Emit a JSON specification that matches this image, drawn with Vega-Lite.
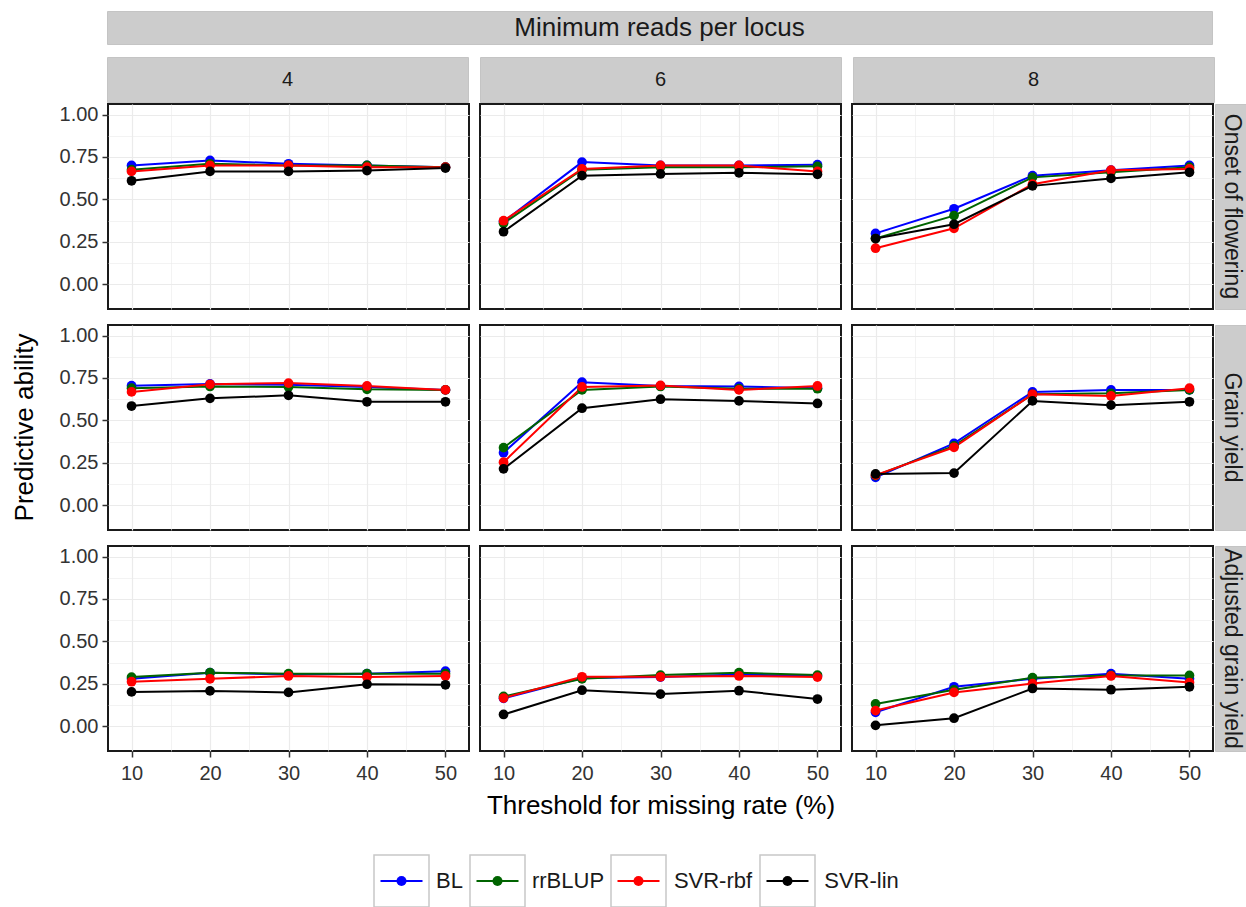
{
"$schema": "https://vega.github.io/schema/vega-lite/v6.json",
"padding": {"left": 12, "top": 10, "right": 0, "bottom": 0},
"datasets": {
"d": [
{"reads":4,"trait":"Onset of flowering","method":"BL","threshold":10,"ability":0.70},
{"reads":4,"trait":"Onset of flowering","method":"BL","threshold":20,"ability":0.73},
{"reads":4,"trait":"Onset of flowering","method":"BL","threshold":30,"ability":0.71},
{"reads":4,"trait":"Onset of flowering","method":"BL","threshold":40,"ability":0.70},
{"reads":4,"trait":"Onset of flowering","method":"BL","threshold":50,"ability":0.69},
{"reads":4,"trait":"Onset of flowering","method":"rrBLUP","threshold":10,"ability":0.675},
{"reads":4,"trait":"Onset of flowering","method":"rrBLUP","threshold":20,"ability":0.71},
{"reads":4,"trait":"Onset of flowering","method":"rrBLUP","threshold":30,"ability":0.70},
{"reads":4,"trait":"Onset of flowering","method":"rrBLUP","threshold":40,"ability":0.70},
{"reads":4,"trait":"Onset of flowering","method":"rrBLUP","threshold":50,"ability":0.69},
{"reads":4,"trait":"Onset of flowering","method":"SVR-rbf","threshold":10,"ability":0.665},
{"reads":4,"trait":"Onset of flowering","method":"SVR-rbf","threshold":20,"ability":0.70},
{"reads":4,"trait":"Onset of flowering","method":"SVR-rbf","threshold":30,"ability":0.70},
{"reads":4,"trait":"Onset of flowering","method":"SVR-rbf","threshold":40,"ability":0.69},
{"reads":4,"trait":"Onset of flowering","method":"SVR-rbf","threshold":50,"ability":0.69},
{"reads":4,"trait":"Onset of flowering","method":"SVR-lin","threshold":10,"ability":0.61},
{"reads":4,"trait":"Onset of flowering","method":"SVR-lin","threshold":20,"ability":0.665},
{"reads":4,"trait":"Onset of flowering","method":"SVR-lin","threshold":30,"ability":0.665},
{"reads":4,"trait":"Onset of flowering","method":"SVR-lin","threshold":40,"ability":0.67},
{"reads":4,"trait":"Onset of flowering","method":"SVR-lin","threshold":50,"ability":0.685},
{"reads":6,"trait":"Onset of flowering","method":"BL","threshold":10,"ability":0.37},
{"reads":6,"trait":"Onset of flowering","method":"BL","threshold":20,"ability":0.72},
{"reads":6,"trait":"Onset of flowering","method":"BL","threshold":30,"ability":0.70},
{"reads":6,"trait":"Onset of flowering","method":"BL","threshold":40,"ability":0.70},
{"reads":6,"trait":"Onset of flowering","method":"BL","threshold":50,"ability":0.705},
{"reads":6,"trait":"Onset of flowering","method":"rrBLUP","threshold":10,"ability":0.36},
{"reads":6,"trait":"Onset of flowering","method":"rrBLUP","threshold":20,"ability":0.675},
{"reads":6,"trait":"Onset of flowering","method":"rrBLUP","threshold":30,"ability":0.69},
{"reads":6,"trait":"Onset of flowering","method":"rrBLUP","threshold":40,"ability":0.69},
{"reads":6,"trait":"Onset of flowering","method":"rrBLUP","threshold":50,"ability":0.695},
{"reads":6,"trait":"Onset of flowering","method":"SVR-rbf","threshold":10,"ability":0.375},
{"reads":6,"trait":"Onset of flowering","method":"SVR-rbf","threshold":20,"ability":0.68},
{"reads":6,"trait":"Onset of flowering","method":"SVR-rbf","threshold":30,"ability":0.70},
{"reads":6,"trait":"Onset of flowering","method":"SVR-rbf","threshold":40,"ability":0.70},
{"reads":6,"trait":"Onset of flowering","method":"SVR-rbf","threshold":50,"ability":0.665},
{"reads":6,"trait":"Onset of flowering","method":"SVR-lin","threshold":10,"ability":0.31},
{"reads":6,"trait":"Onset of flowering","method":"SVR-lin","threshold":20,"ability":0.64},
{"reads":6,"trait":"Onset of flowering","method":"SVR-lin","threshold":30,"ability":0.65},
{"reads":6,"trait":"Onset of flowering","method":"SVR-lin","threshold":40,"ability":0.657},
{"reads":6,"trait":"Onset of flowering","method":"SVR-lin","threshold":50,"ability":0.648},
{"reads":8,"trait":"Onset of flowering","method":"BL","threshold":10,"ability":0.30},
{"reads":8,"trait":"Onset of flowering","method":"BL","threshold":20,"ability":0.445},
{"reads":8,"trait":"Onset of flowering","method":"BL","threshold":30,"ability":0.64},
{"reads":8,"trait":"Onset of flowering","method":"BL","threshold":40,"ability":0.672},
{"reads":8,"trait":"Onset of flowering","method":"BL","threshold":50,"ability":0.70},
{"reads":8,"trait":"Onset of flowering","method":"rrBLUP","threshold":10,"ability":0.27},
{"reads":8,"trait":"Onset of flowering","method":"rrBLUP","threshold":20,"ability":0.405},
{"reads":8,"trait":"Onset of flowering","method":"rrBLUP","threshold":30,"ability":0.63},
{"reads":8,"trait":"Onset of flowering","method":"rrBLUP","threshold":40,"ability":0.66},
{"reads":8,"trait":"Onset of flowering","method":"rrBLUP","threshold":50,"ability":0.69},
{"reads":8,"trait":"Onset of flowering","method":"SVR-rbf","threshold":10,"ability":0.213},
{"reads":8,"trait":"Onset of flowering","method":"SVR-rbf","threshold":20,"ability":0.33},
{"reads":8,"trait":"Onset of flowering","method":"SVR-rbf","threshold":30,"ability":0.59},
{"reads":8,"trait":"Onset of flowering","method":"SVR-rbf","threshold":40,"ability":0.672},
{"reads":8,"trait":"Onset of flowering","method":"SVR-rbf","threshold":50,"ability":0.68},
{"reads":8,"trait":"Onset of flowering","method":"SVR-lin","threshold":10,"ability":0.27},
{"reads":8,"trait":"Onset of flowering","method":"SVR-lin","threshold":20,"ability":0.354},
{"reads":8,"trait":"Onset of flowering","method":"SVR-lin","threshold":30,"ability":0.58},
{"reads":8,"trait":"Onset of flowering","method":"SVR-lin","threshold":40,"ability":0.624},
{"reads":8,"trait":"Onset of flowering","method":"SVR-lin","threshold":50,"ability":0.66},
{"reads":4,"trait":"Grain yield","method":"BL","threshold":10,"ability":0.705},
{"reads":4,"trait":"Grain yield","method":"BL","threshold":20,"ability":0.715},
{"reads":4,"trait":"Grain yield","method":"BL","threshold":30,"ability":0.71},
{"reads":4,"trait":"Grain yield","method":"BL","threshold":40,"ability":0.697},
{"reads":4,"trait":"Grain yield","method":"BL","threshold":50,"ability":0.68},
{"reads":4,"trait":"Grain yield","method":"rrBLUP","threshold":10,"ability":0.69},
{"reads":4,"trait":"Grain yield","method":"rrBLUP","threshold":20,"ability":0.70},
{"reads":4,"trait":"Grain yield","method":"rrBLUP","threshold":30,"ability":0.697},
{"reads":4,"trait":"Grain yield","method":"rrBLUP","threshold":40,"ability":0.683},
{"reads":4,"trait":"Grain yield","method":"rrBLUP","threshold":50,"ability":0.68},
{"reads":4,"trait":"Grain yield","method":"SVR-rbf","threshold":10,"ability":0.668},
{"reads":4,"trait":"Grain yield","method":"SVR-rbf","threshold":20,"ability":0.713},
{"reads":4,"trait":"Grain yield","method":"SVR-rbf","threshold":30,"ability":0.72},
{"reads":4,"trait":"Grain yield","method":"SVR-rbf","threshold":40,"ability":0.703},
{"reads":4,"trait":"Grain yield","method":"SVR-rbf","threshold":50,"ability":0.68},
{"reads":4,"trait":"Grain yield","method":"SVR-lin","threshold":10,"ability":0.585},
{"reads":4,"trait":"Grain yield","method":"SVR-lin","threshold":20,"ability":0.63},
{"reads":4,"trait":"Grain yield","method":"SVR-lin","threshold":30,"ability":0.648},
{"reads":4,"trait":"Grain yield","method":"SVR-lin","threshold":40,"ability":0.61},
{"reads":4,"trait":"Grain yield","method":"SVR-lin","threshold":50,"ability":0.61},
{"reads":6,"trait":"Grain yield","method":"BL","threshold":10,"ability":0.31},
{"reads":6,"trait":"Grain yield","method":"BL","threshold":20,"ability":0.725},
{"reads":6,"trait":"Grain yield","method":"BL","threshold":30,"ability":0.703},
{"reads":6,"trait":"Grain yield","method":"BL","threshold":40,"ability":0.70},
{"reads":6,"trait":"Grain yield","method":"BL","threshold":50,"ability":0.69},
{"reads":6,"trait":"Grain yield","method":"rrBLUP","threshold":10,"ability":0.34},
{"reads":6,"trait":"Grain yield","method":"rrBLUP","threshold":20,"ability":0.68},
{"reads":6,"trait":"Grain yield","method":"rrBLUP","threshold":30,"ability":0.70},
{"reads":6,"trait":"Grain yield","method":"rrBLUP","threshold":40,"ability":0.687},
{"reads":6,"trait":"Grain yield","method":"rrBLUP","threshold":50,"ability":0.687},
{"reads":6,"trait":"Grain yield","method":"SVR-rbf","threshold":10,"ability":0.254},
{"reads":6,"trait":"Grain yield","method":"SVR-rbf","threshold":20,"ability":0.697},
{"reads":6,"trait":"Grain yield","method":"SVR-rbf","threshold":30,"ability":0.706},
{"reads":6,"trait":"Grain yield","method":"SVR-rbf","threshold":40,"ability":0.68},
{"reads":6,"trait":"Grain yield","method":"SVR-rbf","threshold":50,"ability":0.703},
{"reads":6,"trait":"Grain yield","method":"SVR-lin","threshold":10,"ability":0.215},
{"reads":6,"trait":"Grain yield","method":"SVR-lin","threshold":20,"ability":0.572},
{"reads":6,"trait":"Grain yield","method":"SVR-lin","threshold":30,"ability":0.625},
{"reads":6,"trait":"Grain yield","method":"SVR-lin","threshold":40,"ability":0.615},
{"reads":6,"trait":"Grain yield","method":"SVR-lin","threshold":50,"ability":0.60},
{"reads":8,"trait":"Grain yield","method":"BL","threshold":10,"ability":0.165},
{"reads":8,"trait":"Grain yield","method":"BL","threshold":20,"ability":0.365},
{"reads":8,"trait":"Grain yield","method":"BL","threshold":30,"ability":0.668},
{"reads":8,"trait":"Grain yield","method":"BL","threshold":40,"ability":0.68},
{"reads":8,"trait":"Grain yield","method":"BL","threshold":50,"ability":0.68},
{"reads":8,"trait":"Grain yield","method":"rrBLUP","threshold":10,"ability":0.175},
{"reads":8,"trait":"Grain yield","method":"rrBLUP","threshold":20,"ability":0.35},
{"reads":8,"trait":"Grain yield","method":"rrBLUP","threshold":30,"ability":0.654},
{"reads":8,"trait":"Grain yield","method":"rrBLUP","threshold":40,"ability":0.66},
{"reads":8,"trait":"Grain yield","method":"rrBLUP","threshold":50,"ability":0.68},
{"reads":8,"trait":"Grain yield","method":"SVR-rbf","threshold":10,"ability":0.178},
{"reads":8,"trait":"Grain yield","method":"SVR-rbf","threshold":20,"ability":0.342},
{"reads":8,"trait":"Grain yield","method":"SVR-rbf","threshold":30,"ability":0.654},
{"reads":8,"trait":"Grain yield","method":"SVR-rbf","threshold":40,"ability":0.644},
{"reads":8,"trait":"Grain yield","method":"SVR-rbf","threshold":50,"ability":0.69},
{"reads":8,"trait":"Grain yield","method":"SVR-lin","threshold":10,"ability":0.185},
{"reads":8,"trait":"Grain yield","method":"SVR-lin","threshold":20,"ability":0.19},
{"reads":8,"trait":"Grain yield","method":"SVR-lin","threshold":30,"ability":0.615},
{"reads":8,"trait":"Grain yield","method":"SVR-lin","threshold":40,"ability":0.59},
{"reads":8,"trait":"Grain yield","method":"SVR-lin","threshold":50,"ability":0.61},
{"reads":4,"trait":"Adjusted grain yield","method":"BL","threshold":10,"ability":0.28},
{"reads":4,"trait":"Adjusted grain yield","method":"BL","threshold":20,"ability":0.316},
{"reads":4,"trait":"Adjusted grain yield","method":"BL","threshold":30,"ability":0.305},
{"reads":4,"trait":"Adjusted grain yield","method":"BL","threshold":40,"ability":0.31},
{"reads":4,"trait":"Adjusted grain yield","method":"BL","threshold":50,"ability":0.325},
{"reads":4,"trait":"Adjusted grain yield","method":"rrBLUP","threshold":10,"ability":0.29},
{"reads":4,"trait":"Adjusted grain yield","method":"rrBLUP","threshold":20,"ability":0.316},
{"reads":4,"trait":"Adjusted grain yield","method":"rrBLUP","threshold":30,"ability":0.31},
{"reads":4,"trait":"Adjusted grain yield","method":"rrBLUP","threshold":40,"ability":0.31},
{"reads":4,"trait":"Adjusted grain yield","method":"rrBLUP","threshold":50,"ability":0.31},
{"reads":4,"trait":"Adjusted grain yield","method":"SVR-rbf","threshold":10,"ability":0.263},
{"reads":4,"trait":"Adjusted grain yield","method":"SVR-rbf","threshold":20,"ability":0.28},
{"reads":4,"trait":"Adjusted grain yield","method":"SVR-rbf","threshold":30,"ability":0.297},
{"reads":4,"trait":"Adjusted grain yield","method":"SVR-rbf","threshold":40,"ability":0.29},
{"reads":4,"trait":"Adjusted grain yield","method":"SVR-rbf","threshold":50,"ability":0.297},
{"reads":4,"trait":"Adjusted grain yield","method":"SVR-lin","threshold":10,"ability":0.203},
{"reads":4,"trait":"Adjusted grain yield","method":"SVR-lin","threshold":20,"ability":0.209},
{"reads":4,"trait":"Adjusted grain yield","method":"SVR-lin","threshold":30,"ability":0.20},
{"reads":4,"trait":"Adjusted grain yield","method":"SVR-lin","threshold":40,"ability":0.248},
{"reads":4,"trait":"Adjusted grain yield","method":"SVR-lin","threshold":50,"ability":0.245},
{"reads":6,"trait":"Adjusted grain yield","method":"BL","threshold":10,"ability":0.165},
{"reads":6,"trait":"Adjusted grain yield","method":"BL","threshold":20,"ability":0.285},
{"reads":6,"trait":"Adjusted grain yield","method":"BL","threshold":30,"ability":0.29},
{"reads":6,"trait":"Adjusted grain yield","method":"BL","threshold":40,"ability":0.305},
{"reads":6,"trait":"Adjusted grain yield","method":"BL","threshold":50,"ability":0.297},
{"reads":6,"trait":"Adjusted grain yield","method":"rrBLUP","threshold":10,"ability":0.176},
{"reads":6,"trait":"Adjusted grain yield","method":"rrBLUP","threshold":20,"ability":0.28},
{"reads":6,"trait":"Adjusted grain yield","method":"rrBLUP","threshold":30,"ability":0.302},
{"reads":6,"trait":"Adjusted grain yield","method":"rrBLUP","threshold":40,"ability":0.316},
{"reads":6,"trait":"Adjusted grain yield","method":"rrBLUP","threshold":50,"ability":0.302},
{"reads":6,"trait":"Adjusted grain yield","method":"SVR-rbf","threshold":10,"ability":0.167},
{"reads":6,"trait":"Adjusted grain yield","method":"SVR-rbf","threshold":20,"ability":0.292},
{"reads":6,"trait":"Adjusted grain yield","method":"SVR-rbf","threshold":30,"ability":0.292},
{"reads":6,"trait":"Adjusted grain yield","method":"SVR-rbf","threshold":40,"ability":0.297},
{"reads":6,"trait":"Adjusted grain yield","method":"SVR-rbf","threshold":50,"ability":0.29},
{"reads":6,"trait":"Adjusted grain yield","method":"SVR-lin","threshold":10,"ability":0.07},
{"reads":6,"trait":"Adjusted grain yield","method":"SVR-lin","threshold":20,"ability":0.213},
{"reads":6,"trait":"Adjusted grain yield","method":"SVR-lin","threshold":30,"ability":0.19},
{"reads":6,"trait":"Adjusted grain yield","method":"SVR-lin","threshold":40,"ability":0.21},
{"reads":6,"trait":"Adjusted grain yield","method":"SVR-lin","threshold":50,"ability":0.161},
{"reads":8,"trait":"Adjusted grain yield","method":"BL","threshold":10,"ability":0.083},
{"reads":8,"trait":"Adjusted grain yield","method":"BL","threshold":20,"ability":0.233},
{"reads":8,"trait":"Adjusted grain yield","method":"BL","threshold":30,"ability":0.28},
{"reads":8,"trait":"Adjusted grain yield","method":"BL","threshold":40,"ability":0.31},
{"reads":8,"trait":"Adjusted grain yield","method":"BL","threshold":50,"ability":0.28},
{"reads":8,"trait":"Adjusted grain yield","method":"rrBLUP","threshold":10,"ability":0.132},
{"reads":8,"trait":"Adjusted grain yield","method":"rrBLUP","threshold":20,"ability":0.215},
{"reads":8,"trait":"Adjusted grain yield","method":"rrBLUP","threshold":30,"ability":0.287},
{"reads":8,"trait":"Adjusted grain yield","method":"rrBLUP","threshold":40,"ability":0.30},
{"reads":8,"trait":"Adjusted grain yield","method":"rrBLUP","threshold":50,"ability":0.30},
{"reads":8,"trait":"Adjusted grain yield","method":"SVR-rbf","threshold":10,"ability":0.093},
{"reads":8,"trait":"Adjusted grain yield","method":"SVR-rbf","threshold":20,"ability":0.20},
{"reads":8,"trait":"Adjusted grain yield","method":"SVR-rbf","threshold":30,"ability":0.252},
{"reads":8,"trait":"Adjusted grain yield","method":"SVR-rbf","threshold":40,"ability":0.297},
{"reads":8,"trait":"Adjusted grain yield","method":"SVR-rbf","threshold":50,"ability":0.258},
{"reads":8,"trait":"Adjusted grain yield","method":"SVR-lin","threshold":10,"ability":0.006},
{"reads":8,"trait":"Adjusted grain yield","method":"SVR-lin","threshold":20,"ability":0.048},
{"reads":8,"trait":"Adjusted grain yield","method":"SVR-lin","threshold":30,"ability":0.223},
{"reads":8,"trait":"Adjusted grain yield","method":"SVR-lin","threshold":40,"ability":0.216},
{"reads":8,"trait":"Adjusted grain yield","method":"SVR-lin","threshold":50,"ability":0.233}
],
"methods": [{"method":"BL"},{"method":"rrBLUP"},{"method":"SVR-rbf"},{"method":"SVR-lin"}]
},
"spacing": 0,
"vconcat": [
 {"spacing": 0, "hconcat": [
  {"width": 94, "height": 10, "view": {"stroke": null}, "data": {"values": []}, "mark": "point", "encoding": {}},
  {"spacing": 11, "vconcat": [
   {"width": 1105, "height": 33, "view": {"fill": "#CCCCCC", "stroke": "#C4C4C4", "strokeWidth": 1}, "data": {"values": [{"label": "Minimum reads per locus"}]}, "mark": {"type": "text", "fontSize": 26, "color": "#1A1A1A", "align": "center", "baseline": "middle"}, "encoding": {"text": {"field": "label", "type": "nominal"}}},
   {"spacing": 10, "hconcat": [
    {"width": 361, "height": 45, "view": {"fill": "#CCCCCC", "stroke": "#C4C4C4", "strokeWidth": 1}, "data": {"values": [{"label": "4"}]}, "mark": {"type": "text", "fontSize": 20, "color": "#1A1A1A", "align": "center", "baseline": "middle"}, "encoding": {"text": {"field": "label", "type": "nominal"}}},
    {"width": 361, "height": 45, "view": {"fill": "#CCCCCC", "stroke": "#C4C4C4", "strokeWidth": 1}, "data": {"values": [{"label": "6"}]}, "mark": {"type": "text", "fontSize": 20, "color": "#1A1A1A", "align": "center", "baseline": "middle"}, "encoding": {"text": {"field": "label", "type": "nominal"}}},
    {"width": 361, "height": 45, "view": {"fill": "#CCCCCC", "stroke": "#C4C4C4", "strokeWidth": 1}, "data": {"values": [{"label": "8"}]}, "mark": {"type": "text", "fontSize": 20, "color": "#1A1A1A", "align": "center", "baseline": "middle"}, "encoding": {"text": {"field": "label", "type": "nominal"}}}
   ]}
  ]}
 ]},
 {"spacing": 35, "vconcat": [
  {"spacing": 20, "hconcat": [
   {"width": 26, "height": 647, "view": {"stroke": null}, "data": {"values": [{"label": "Predictive ability"}]}, "mark": {"type": "text", "angle": 270, "fontSize": 26, "color": "#000000", "align": "center", "baseline": "middle"}, "encoding": {"text": {"field": "label", "type": "nominal"}}},
   {"spacing": 14, "vconcat": [
    {"spacing": 0, "hconcat": [
     {"spacing": 9, "hconcat": [
      {"width": 361, "height": 205, "data": {"name": "d"}, "transform": [{"filter": "datum.reads == 4 && datum.trait == 'Onset of flowering'"}],
       "mark": {"type": "line", "strokeWidth": 2, "point": {"filled": true, "size": 95, "opacity": 1}},
       "encoding": {
        "x": {"field": "threshold", "type": "quantitative", "scale": {"domain": [7, 53], "nice": false, "zero": false}, "axis": {"values": [10,15,20,25,30,35,40,45,50], "labels": false, "ticks": false, "title": null, "gridWidth": {"condition": {"test": "datum.value % 10 == 0", "value": 1.2}, "value": 0.6}}},
        "y": {"field": "ability", "type": "quantitative", "scale": {"domain": [-0.145, 1.062], "nice": false, "zero": false}, "axis": {"values": [0,0.125,0.25,0.375,0.5,0.625,0.75,0.875,1], "labelExpr": "abs(datum.value*4 - round(datum.value*4)) < 0.001 ? format(datum.value, '.2f') : ''", "tickOpacity": {"condition": {"test": "abs(datum.value*4 - round(datum.value*4)) < 0.001", "value": 1}, "value": 0}, "title": null, "gridWidth": {"condition": {"test": "abs(datum.value*4 - round(datum.value*4)) < 0.001", "value": 1.2}, "value": 0.6}}},
        "color": {"field": "method", "type": "nominal", "scale": {"domain": ["BL","rrBLUP","SVR-rbf","SVR-lin"], "range": ["#0000FF","#006400","#FF0000","#000000"]}, "legend": null}
       }},
      {"width": 361, "height": 205, "data": {"name": "d"}, "transform": [{"filter": "datum.reads == 6 && datum.trait == 'Onset of flowering'"}],
       "mark": {"type": "line", "strokeWidth": 2, "point": {"filled": true, "size": 95, "opacity": 1}},
       "encoding": {
        "x": {"field": "threshold", "type": "quantitative", "scale": {"domain": [7, 53], "nice": false, "zero": false}, "axis": {"values": [10,15,20,25,30,35,40,45,50], "labels": false, "ticks": false, "title": null, "gridWidth": {"condition": {"test": "datum.value % 10 == 0", "value": 1.2}, "value": 0.6}}},
        "y": {"field": "ability", "type": "quantitative", "scale": {"domain": [-0.145, 1.062], "nice": false, "zero": false}, "axis": {"values": [0,0.125,0.25,0.375,0.5,0.625,0.75,0.875,1], "labels": false, "ticks": false, "title": null, "gridWidth": {"condition": {"test": "abs(datum.value*4 - round(datum.value*4)) < 0.001", "value": 1.2}, "value": 0.6}}},
        "color": {"field": "method", "type": "nominal", "scale": {"domain": ["BL","rrBLUP","SVR-rbf","SVR-lin"], "range": ["#0000FF","#006400","#FF0000","#000000"]}, "legend": null}
       }},
      {"width": 361, "height": 205, "data": {"name": "d"}, "transform": [{"filter": "datum.reads == 8 && datum.trait == 'Onset of flowering'"}],
       "mark": {"type": "line", "strokeWidth": 2, "point": {"filled": true, "size": 95, "opacity": 1}},
       "encoding": {
        "x": {"field": "threshold", "type": "quantitative", "scale": {"domain": [7, 53], "nice": false, "zero": false}, "axis": {"values": [10,15,20,25,30,35,40,45,50], "labels": false, "ticks": false, "title": null, "gridWidth": {"condition": {"test": "datum.value % 10 == 0", "value": 1.2}, "value": 0.6}}},
        "y": {"field": "ability", "type": "quantitative", "scale": {"domain": [-0.145, 1.062], "nice": false, "zero": false}, "axis": {"values": [0,0.125,0.25,0.375,0.5,0.625,0.75,0.875,1], "labels": false, "ticks": false, "title": null, "gridWidth": {"condition": {"test": "abs(datum.value*4 - round(datum.value*4)) < 0.001", "value": 1.2}, "value": 0.6}}},
        "color": {"field": "method", "type": "nominal", "scale": {"domain": ["BL","rrBLUP","SVR-rbf","SVR-lin"], "range": ["#0000FF","#006400","#FF0000","#000000"]}, "legend": null}
       }}
     ]},
     {"width": 33, "height": 205, "view": {"fill": "#CCCCCC", "stroke": "#C4C4C4", "strokeWidth": 1}, "data": {"values": [{"label": "Onset of flowering"}]}, "mark": {"type": "text", "angle": 90, "fontSize": 23, "color": "#1A1A1A", "align": "center", "baseline": "middle"}, "encoding": {"text": {"field": "label", "type": "nominal"}}}
    ]},
    {"spacing": 0, "hconcat": [
     {"spacing": 9, "hconcat": [
      {"width": 361, "height": 205, "data": {"name": "d"}, "transform": [{"filter": "datum.reads == 4 && datum.trait == 'Grain yield'"}],
       "mark": {"type": "line", "strokeWidth": 2, "point": {"filled": true, "size": 95, "opacity": 1}},
       "encoding": {
        "x": {"field": "threshold", "type": "quantitative", "scale": {"domain": [7, 53], "nice": false, "zero": false}, "axis": {"values": [10,15,20,25,30,35,40,45,50], "labels": false, "ticks": false, "title": null, "gridWidth": {"condition": {"test": "datum.value % 10 == 0", "value": 1.2}, "value": 0.6}}},
        "y": {"field": "ability", "type": "quantitative", "scale": {"domain": [-0.145, 1.062], "nice": false, "zero": false}, "axis": {"values": [0,0.125,0.25,0.375,0.5,0.625,0.75,0.875,1], "labelExpr": "abs(datum.value*4 - round(datum.value*4)) < 0.001 ? format(datum.value, '.2f') : ''", "tickOpacity": {"condition": {"test": "abs(datum.value*4 - round(datum.value*4)) < 0.001", "value": 1}, "value": 0}, "title": null, "gridWidth": {"condition": {"test": "abs(datum.value*4 - round(datum.value*4)) < 0.001", "value": 1.2}, "value": 0.6}}},
        "color": {"field": "method", "type": "nominal", "scale": {"domain": ["BL","rrBLUP","SVR-rbf","SVR-lin"], "range": ["#0000FF","#006400","#FF0000","#000000"]}, "legend": null}
       }},
      {"width": 361, "height": 205, "data": {"name": "d"}, "transform": [{"filter": "datum.reads == 6 && datum.trait == 'Grain yield'"}],
       "mark": {"type": "line", "strokeWidth": 2, "point": {"filled": true, "size": 95, "opacity": 1}},
       "encoding": {
        "x": {"field": "threshold", "type": "quantitative", "scale": {"domain": [7, 53], "nice": false, "zero": false}, "axis": {"values": [10,15,20,25,30,35,40,45,50], "labels": false, "ticks": false, "title": null, "gridWidth": {"condition": {"test": "datum.value % 10 == 0", "value": 1.2}, "value": 0.6}}},
        "y": {"field": "ability", "type": "quantitative", "scale": {"domain": [-0.145, 1.062], "nice": false, "zero": false}, "axis": {"values": [0,0.125,0.25,0.375,0.5,0.625,0.75,0.875,1], "labels": false, "ticks": false, "title": null, "gridWidth": {"condition": {"test": "abs(datum.value*4 - round(datum.value*4)) < 0.001", "value": 1.2}, "value": 0.6}}},
        "color": {"field": "method", "type": "nominal", "scale": {"domain": ["BL","rrBLUP","SVR-rbf","SVR-lin"], "range": ["#0000FF","#006400","#FF0000","#000000"]}, "legend": null}
       }},
      {"width": 361, "height": 205, "data": {"name": "d"}, "transform": [{"filter": "datum.reads == 8 && datum.trait == 'Grain yield'"}],
       "mark": {"type": "line", "strokeWidth": 2, "point": {"filled": true, "size": 95, "opacity": 1}},
       "encoding": {
        "x": {"field": "threshold", "type": "quantitative", "scale": {"domain": [7, 53], "nice": false, "zero": false}, "axis": {"values": [10,15,20,25,30,35,40,45,50], "labels": false, "ticks": false, "title": null, "gridWidth": {"condition": {"test": "datum.value % 10 == 0", "value": 1.2}, "value": 0.6}}},
        "y": {"field": "ability", "type": "quantitative", "scale": {"domain": [-0.145, 1.062], "nice": false, "zero": false}, "axis": {"values": [0,0.125,0.25,0.375,0.5,0.625,0.75,0.875,1], "labels": false, "ticks": false, "title": null, "gridWidth": {"condition": {"test": "abs(datum.value*4 - round(datum.value*4)) < 0.001", "value": 1.2}, "value": 0.6}}},
        "color": {"field": "method", "type": "nominal", "scale": {"domain": ["BL","rrBLUP","SVR-rbf","SVR-lin"], "range": ["#0000FF","#006400","#FF0000","#000000"]}, "legend": null}
       }}
     ]},
     {"width": 33, "height": 205, "view": {"fill": "#CCCCCC", "stroke": "#C4C4C4", "strokeWidth": 1}, "data": {"values": [{"label": "Grain yield"}]}, "mark": {"type": "text", "angle": 90, "fontSize": 23, "color": "#1A1A1A", "align": "center", "baseline": "middle"}, "encoding": {"text": {"field": "label", "type": "nominal"}}}
    ]},
    {"spacing": 0, "hconcat": [
     {"spacing": 9, "hconcat": [
      {"width": 361, "height": 205, "data": {"name": "d"}, "transform": [{"filter": "datum.reads == 4 && datum.trait == 'Adjusted grain yield'"}],
       "mark": {"type": "line", "strokeWidth": 2, "point": {"filled": true, "size": 95, "opacity": 1}},
       "encoding": {
        "x": {"field": "threshold", "type": "quantitative", "scale": {"domain": [7, 53], "nice": false, "zero": false}, "axis": {"values": [10,15,20,25,30,35,40,45,50], "labelExpr": "datum.value % 10 == 0 ? datum.label : ''", "tickOpacity": {"condition": {"test": "datum.value % 10 == 0", "value": 1}, "value": 0}, "title": null, "gridWidth": {"condition": {"test": "datum.value % 10 == 0", "value": 1.2}, "value": 0.6}}},
        "y": {"field": "ability", "type": "quantitative", "scale": {"domain": [-0.145, 1.062], "nice": false, "zero": false}, "axis": {"values": [0,0.125,0.25,0.375,0.5,0.625,0.75,0.875,1], "labelExpr": "abs(datum.value*4 - round(datum.value*4)) < 0.001 ? format(datum.value, '.2f') : ''", "tickOpacity": {"condition": {"test": "abs(datum.value*4 - round(datum.value*4)) < 0.001", "value": 1}, "value": 0}, "title": null, "gridWidth": {"condition": {"test": "abs(datum.value*4 - round(datum.value*4)) < 0.001", "value": 1.2}, "value": 0.6}}},
        "color": {"field": "method", "type": "nominal", "scale": {"domain": ["BL","rrBLUP","SVR-rbf","SVR-lin"], "range": ["#0000FF","#006400","#FF0000","#000000"]}, "legend": null}
       }},
      {"width": 361, "height": 205, "data": {"name": "d"}, "transform": [{"filter": "datum.reads == 6 && datum.trait == 'Adjusted grain yield'"}],
       "mark": {"type": "line", "strokeWidth": 2, "point": {"filled": true, "size": 95, "opacity": 1}},
       "encoding": {
        "x": {"field": "threshold", "type": "quantitative", "scale": {"domain": [7, 53], "nice": false, "zero": false}, "axis": {"values": [10,15,20,25,30,35,40,45,50], "labelExpr": "datum.value % 10 == 0 ? datum.label : ''", "tickOpacity": {"condition": {"test": "datum.value % 10 == 0", "value": 1}, "value": 0}, "title": "Threshold for missing rate (%)", "gridWidth": {"condition": {"test": "datum.value % 10 == 0", "value": 1.2}, "value": 0.6}}},
        "y": {"field": "ability", "type": "quantitative", "scale": {"domain": [-0.145, 1.062], "nice": false, "zero": false}, "axis": {"values": [0,0.125,0.25,0.375,0.5,0.625,0.75,0.875,1], "labels": false, "ticks": false, "title": null, "gridWidth": {"condition": {"test": "abs(datum.value*4 - round(datum.value*4)) < 0.001", "value": 1.2}, "value": 0.6}}},
        "color": {"field": "method", "type": "nominal", "scale": {"domain": ["BL","rrBLUP","SVR-rbf","SVR-lin"], "range": ["#0000FF","#006400","#FF0000","#000000"]}, "legend": null}
       }},
      {"width": 361, "height": 205, "data": {"name": "d"}, "transform": [{"filter": "datum.reads == 8 && datum.trait == 'Adjusted grain yield'"}],
       "mark": {"type": "line", "strokeWidth": 2, "point": {"filled": true, "size": 95, "opacity": 1}},
       "encoding": {
        "x": {"field": "threshold", "type": "quantitative", "scale": {"domain": [7, 53], "nice": false, "zero": false}, "axis": {"values": [10,15,20,25,30,35,40,45,50], "labelExpr": "datum.value % 10 == 0 ? datum.label : ''", "tickOpacity": {"condition": {"test": "datum.value % 10 == 0", "value": 1}, "value": 0}, "title": null, "gridWidth": {"condition": {"test": "datum.value % 10 == 0", "value": 1.2}, "value": 0.6}}},
        "y": {"field": "ability", "type": "quantitative", "scale": {"domain": [-0.145, 1.062], "nice": false, "zero": false}, "axis": {"values": [0,0.125,0.25,0.375,0.5,0.625,0.75,0.875,1], "labels": false, "ticks": false, "title": null, "gridWidth": {"condition": {"test": "abs(datum.value*4 - round(datum.value*4)) < 0.001", "value": 1.2}, "value": 0.6}}},
        "color": {"field": "method", "type": "nominal", "scale": {"domain": ["BL","rrBLUP","SVR-rbf","SVR-lin"], "range": ["#0000FF","#006400","#FF0000","#000000"]}, "legend": null}
       }}
     ]},
     {"width": 33, "height": 205, "view": {"fill": "#CCCCCC", "stroke": "#C4C4C4", "strokeWidth": 1}, "data": {"values": [{"label": "Adjusted grain yield"}]}, "mark": {"type": "text", "angle": 90, "fontSize": 23, "color": "#1A1A1A", "align": "center", "baseline": "middle"}, "encoding": {"text": {"field": "label", "type": "nominal"}}}
    ]}
   ]}
  ]},
  {"spacing": 0, "hconcat": [
   {"width": 361, "height": 52, "view": {"stroke": null}, "data": {"values": []}, "mark": "point", "encoding": {}},
   {"width": 55, "height": 52, "view": {"stroke": "#C8C8C8", "strokeWidth": 1.5}, "data": {"name": "methods"}, "transform": [{"filter": "datum.method == 'BL'"}],
    "layer": [
     {"mark": {"type": "point", "shape": "M-1,0L1,0", "filled": false, "strokeWidth": 2, "size": 1764, "opacity": 1}, "encoding": {"color": {"field": "method", "type": "nominal", "scale": {"domain": ["BL","rrBLUP","SVR-rbf","SVR-lin"], "range": ["#0000FF","#006400","#FF0000","#000000"]}, "legend": null}}},
     {"mark": {"type": "point", "shape": "circle", "filled": true, "size": 100, "opacity": 1}, "encoding": {"color": {"field": "method", "type": "nominal", "scale": {"domain": ["BL","rrBLUP","SVR-rbf","SVR-lin"], "range": ["#0000FF","#006400","#FF0000","#000000"]}, "legend": null}}}
    ]},
   {"width": 39, "height": 52, "view": {"stroke": null}, "data": {"values": [{"label": "BL"}]}, "mark": {"type": "text", "fontSize": 22, "color": "#1A1A1A", "align": "center", "baseline": "middle"}, "encoding": {"text": {"field": "label", "type": "nominal"}}},
   {"width": 55, "height": 52, "view": {"stroke": "#C8C8C8", "strokeWidth": 1.5}, "data": {"name": "methods"}, "transform": [{"filter": "datum.method == 'rrBLUP'"}],
    "layer": [
     {"mark": {"type": "point", "shape": "M-1,0L1,0", "filled": false, "strokeWidth": 2, "size": 1764, "opacity": 1}, "encoding": {"color": {"field": "method", "type": "nominal", "scale": {"domain": ["BL","rrBLUP","SVR-rbf","SVR-lin"], "range": ["#0000FF","#006400","#FF0000","#000000"]}, "legend": null}}},
     {"mark": {"type": "point", "shape": "circle", "filled": true, "size": 100, "opacity": 1}, "encoding": {"color": {"field": "method", "type": "nominal", "scale": {"domain": ["BL","rrBLUP","SVR-rbf","SVR-lin"], "range": ["#0000FF","#006400","#FF0000","#000000"]}, "legend": null}}}
    ]},
   {"width": 84, "height": 52, "view": {"stroke": null}, "data": {"values": [{"label": "rrBLUP"}]}, "mark": {"type": "text", "fontSize": 22, "color": "#1A1A1A", "align": "center", "baseline": "middle"}, "encoding": {"text": {"field": "label", "type": "nominal"}}},
   {"width": 55, "height": 52, "view": {"stroke": "#C8C8C8", "strokeWidth": 1.5}, "data": {"name": "methods"}, "transform": [{"filter": "datum.method == 'SVR-rbf'"}],
    "layer": [
     {"mark": {"type": "point", "shape": "M-1,0L1,0", "filled": false, "strokeWidth": 2, "size": 1764, "opacity": 1}, "encoding": {"color": {"field": "method", "type": "nominal", "scale": {"domain": ["BL","rrBLUP","SVR-rbf","SVR-lin"], "range": ["#0000FF","#006400","#FF0000","#000000"]}, "legend": null}}},
     {"mark": {"type": "point", "shape": "circle", "filled": true, "size": 100, "opacity": 1}, "encoding": {"color": {"field": "method", "type": "nominal", "scale": {"domain": ["BL","rrBLUP","SVR-rbf","SVR-lin"], "range": ["#0000FF","#006400","#FF0000","#000000"]}, "legend": null}}}
    ]},
   {"width": 92, "height": 52, "view": {"stroke": null}, "data": {"values": [{"label": "SVR-rbf"}]}, "mark": {"type": "text", "fontSize": 22, "color": "#1A1A1A", "align": "center", "baseline": "middle"}, "encoding": {"text": {"field": "label", "type": "nominal"}}},
   {"width": 55, "height": 52, "view": {"stroke": "#C8C8C8", "strokeWidth": 1.5}, "data": {"name": "methods"}, "transform": [{"filter": "datum.method == 'SVR-lin'"}],
    "layer": [
     {"mark": {"type": "point", "shape": "M-1,0L1,0", "filled": false, "strokeWidth": 2, "size": 1764, "opacity": 1}, "encoding": {"color": {"field": "method", "type": "nominal", "scale": {"domain": ["BL","rrBLUP","SVR-rbf","SVR-lin"], "range": ["#0000FF","#006400","#FF0000","#000000"]}, "legend": null}}},
     {"mark": {"type": "point", "shape": "circle", "filled": true, "size": 100, "opacity": 1}, "encoding": {"color": {"field": "method", "type": "nominal", "scale": {"domain": ["BL","rrBLUP","SVR-rbf","SVR-lin"], "range": ["#0000FF","#006400","#FF0000","#000000"]}, "legend": null}}}
    ]},
   {"width": 91, "height": 52, "view": {"stroke": null}, "data": {"values": [{"label": "SVR-lin"}]}, "mark": {"type": "text", "fontSize": 22, "color": "#1A1A1A", "align": "center", "baseline": "middle"}, "encoding": {"text": {"field": "label", "type": "nominal"}}}
  ]}
 ]}
],
"config": {
 "font": "Liberation Sans",
 "view": {"stroke": "#1A1A1A", "strokeWidth": 2},
 "axis": {"domain": false, "tickSize": 6, "tickColor": "#333333", "tickWidth": 1.5, "labelFontSize": 20, "labelColor": "#333333", "labelPadding": 4, "labelFlush": false, "labelOverlap": false, "gridColor": "#EBEBEB", "titleFontSize": 26, "titleFontWeight": "normal", "titleColor": "#000000"},
 "axisX": {"titlePadding": 9, "labelPadding": 6},
 "axisY": {"titlePadding": 16}
}
}
